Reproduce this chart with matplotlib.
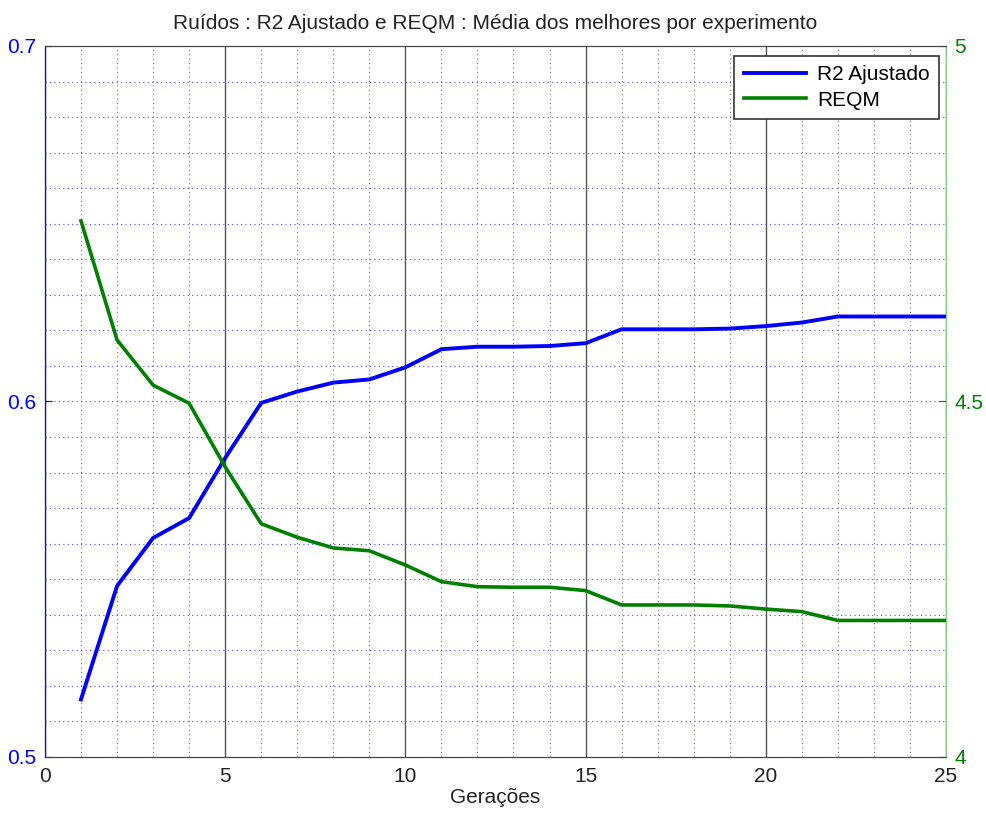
import matplotlib
matplotlib.use("Agg")
import matplotlib.pyplot as plt
from matplotlib.ticker import MultipleLocator, FormatStrFormatter

plt.rcParams['font.family'] = ['Liberation Sans', 'DejaVu Sans']

# Gerações e médias dos melhores por experimento
geracoes = list(range(1, 26))
r2_ajustado = [0.5162, 0.5481, 0.5616, 0.5672, 0.5841, 0.5996, 0.6028, 0.6053,
               0.6062, 0.6096, 0.6147, 0.6154, 0.6154, 0.6156, 0.6164, 0.6203,
               0.6203, 0.6203, 0.6205, 0.6212, 0.6222, 0.6239, 0.6239, 0.6239,
               0.6239]
reqm = [4.754, 4.5865, 4.523, 4.4975, 4.408, 4.328, 4.309, 4.294, 4.290,
        4.270, 4.2466, 4.2395, 4.2387, 4.2387, 4.234, 4.2138, 4.2138, 4.2138,
        4.2124, 4.208, 4.2044, 4.192, 4.192, 4.192, 4.192]

azul = "#0000ff"
verde = "#008000"
fs = 15

fig = plt.figure(figsize=(9.86, 8.15), dpi=100)
ax = fig.add_axes([0.0456, 0.0712, 0.9138, 0.8724])
ax2 = ax.twinx()

l1, = ax.plot(geracoes, r2_ajustado, color=azul, lw=2.8, label="R2 Ajustado")
l2, = ax2.plot(geracoes, reqm, color=verde, lw=2.6, label="REQM")

ax.set_xlim(0, 25)
ax.set_ylim(0.5, 0.7)
ax2.set_ylim(4, 5)

ax.xaxis.set_major_locator(MultipleLocator(5))
ax.xaxis.set_minor_locator(MultipleLocator(1))
ax.yaxis.set_major_locator(MultipleLocator(0.1))
ax.yaxis.set_minor_locator(MultipleLocator(0.01))
ax2.yaxis.set_major_locator(MultipleLocator(0.5))
ax2.yaxis.set_minor_locator(MultipleLocator(10))
ax.xaxis.set_major_formatter(FormatStrFormatter("%g"))
ax.yaxis.set_major_formatter(FormatStrFormatter("%g"))
ax2.yaxis.set_major_formatter(FormatStrFormatter("%g"))

# grade: verticais sólidas nas principais, pontilhadas nas secundárias
ax.grid(True, which="major", axis="x", color="#555555", lw=1.0, ls="-")
ax.grid(True, which="minor", axis="x", color="#777777", lw=0.8, ls=(0, (1, 3)))
ax.grid(True, which="both", axis="y", color="#4a4aff", lw=0.8, ls=(0, (1, 3)))

ax.tick_params(axis="x", which="both", direction="in", labelsize=fs, pad=7,
               colors="#222222", length=0)
ax.tick_params(axis="y", which="major", direction="in", labelsize=fs, pad=6,
               colors=azul, length=5)
ax.tick_params(axis="y", which="minor", length=0)
ax2.tick_params(axis="y", which="major", direction="in", labelsize=fs, pad=6,
                colors=verde, length=5)
ax2.tick_params(axis="y", which="minor", length=0)

for a in (ax, ax2):
    a.spines["top"].set_color("#444444")
    a.spines["bottom"].set_color("#444444")
    a.spines["left"].set_color(azul)
    a.spines["right"].set_color("#88cc88")

ax.set_xlabel("Gerações", fontsize=fs, color="#222222", labelpad=2)
ax.set_title("Ruídos : R2 Ajustado e REQM : Média dos melhores por experimento",
             fontsize=fs, color="#222222", pad=12)

leg = ax2.legend(handles=[l1, l2], loc="upper right",
                 bbox_to_anchor=(0.992, 0.986), fontsize=fs, frameon=True,
                 fancybox=False, edgecolor="#333333", framealpha=1,
                 handlelength=3.0, borderpad=0.45, labelspacing=0.3,
                 handletextpad=0.5, borderaxespad=0)
leg.get_frame().set_linewidth(1.2)

fig.savefig("out.png", dpi=100)
